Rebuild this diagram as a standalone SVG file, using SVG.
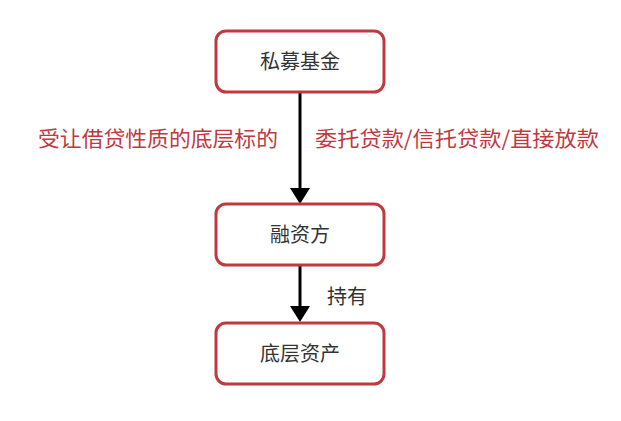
<svg xmlns="http://www.w3.org/2000/svg" width="621" height="421" viewBox="0 0 621 421">
<defs>
<style>
.box{fill:#fff;stroke:#c0393f;stroke-width:3}
.t{font-family:"Noto Sans CJK SC","Noto Sans",sans-serif;font-size:20px;fill:#333;text-anchor:middle}
.r{font-family:"Noto Sans CJK SC","Noto Sans",sans-serif;font-size:21px;fill:#c0393f}
.c{stroke:#000;stroke-width:3;fill:none}
</style>
</defs>
<rect width="621" height="421" fill="#fff"/>
<g id="connectors">
<line class="c" x1="300" y1="92" x2="300" y2="190"/>
<path d="M290,188 L310,188 L300,204 Z" fill="#000"/>
<line class="c" x1="300" y1="265" x2="300" y2="308"/>
<path d="M290,306 L310,306 L300,322 Z" fill="#000"/>
<text class="t" x="347" y="304">持有</text>
</g>
<g id="label-left"><text class="r" x="38" y="146" textLength="240" lengthAdjust="spacingAndGlyphs">受让借贷性质的底层标的</text></g>
<g id="label-right"><text class="r" x="315" y="146" textLength="284" lengthAdjust="spacingAndGlyphs">委托贷款/信托贷款/直接放款</text></g>
<g id="node1"><rect class="box" x="216" y="31" width="168" height="61" rx="10"/><text class="t" x="300" y="69">私募基金</text></g>
<g id="node2"><rect class="box" x="216" y="204" width="168" height="61" rx="10"/><text class="t" x="300" y="242">融资方</text></g>
<g id="node3"><rect class="box" x="216" y="323" width="168" height="61" rx="10"/><text class="t" x="300" y="361">底层资产</text></g>
</svg>
